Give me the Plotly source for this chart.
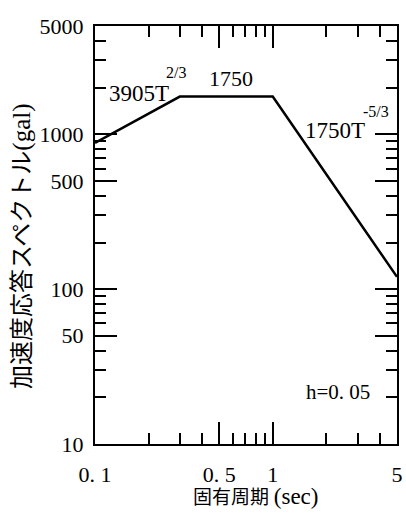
import plotly.graph_objects as go
import math

# data (straight segments on log-log axes)
period = [0.1, 0.3, 1.0, 5.0]
accel = [880, 1750, 1750, 120]

x_major_vals = [0.1, 0.5, 1, 5]
x_major_text = ["0. 1", "0. 5", "1", "5"]
x_minor_vals = [0.2, 0.3, 0.4, 0.6, 0.7, 0.8, 0.9, 2, 3, 4]
y_major_vals = [10, 50, 100, 500, 1000, 5000]
y_major_text = ["10", "50", "100", "500", "1000", "5000"]
y_minor_vals = [20, 30, 40, 60, 70, 80, 90, 200, 300, 400, 600, 700, 800, 900,
                2000, 3000, 4000]

SERIF = "Liberation Serif, Noto Sans CJK JP"

fig = go.Figure()
fig.add_trace(go.Scatter(x=period, y=accel, mode="lines",
                         line=dict(color="black", width=2.5),
                         showlegend=False, hoverinfo="skip"))

# target plot-area box in page pixels
PL, PR, PT, PB = 95, 397, 26, 444
W, H = 406, 516
L, T, R, B = PL, PT, W - PR, H - PB
pw, ph = PR - PL, PB - PT


def px(x):
    return (x - PL) / pw


def py(y):
    return (PB - y) / ph


axis_common = dict(showgrid=False, zeroline=False, showline=True, linecolor="black",
                   linewidth=2, mirror="ticks", ticks="inside", ticklen=22,
                   tickwidth=2, tickcolor="black",
                   tickfont=dict(family=SERIF, size=22, color="black"))

fig.update_xaxes(type="log", range=[math.log10(0.1), math.log10(5)],
                 tickmode="array", tickvals=x_major_vals, ticktext=x_major_text,
                 minor=dict(tickmode="array", tickvals=x_minor_vals, ticks="inside",
                            ticklen=11, tickwidth=2, tickcolor="black", showgrid=False),
                 ticklabelstandoff=10, automargin=False,
                 **axis_common)
fig.update_yaxes(type="log", range=[1, math.log10(5000)],
                 tickmode="array", tickvals=y_major_vals, ticktext=y_major_text,
                 minor=dict(tickmode="array", tickvals=y_minor_vals, ticks="inside",
                            ticklen=11, tickwidth=2, tickcolor="black", showgrid=False),
                 ticklabelstandoff=5, automargin=False,
                 **axis_common)

ann = []


def txt(text, x, y, size, xanchor="center"):
    ann.append(dict(text=text, x=px(x), y=py(y), xref="paper", yref="paper",
                    showarrow=False, xanchor=xanchor, yanchor="middle",
                    font=dict(family=SERIF, size=size, color="black")))


txt("3905T", 139, 93, 23)
txt("2/3", 176, 72, 16)
txt("1750", 231, 78, 22)
txt("1750T", 335, 130, 23)
txt("-5/3", 376, 112, 16)
txt("h=0. 05", 338, 392, 21)
txt("固有周期 <span style='font-size:23px'>(sec)</span>", 255, 496, 19)

ann.append(dict(text="加速度応答スペクトル<span style='font-size:25px'>(gal)</span>",
                x=px(22), y=py(246),
                xref="paper", yref="paper", showarrow=False, textangle=-90,
                xanchor="center", yanchor="middle",
                font=dict(family=SERIF, size=24, color="black")))

fig.update_layout(width=W, height=H, margin=dict(l=L, r=R, t=T, b=B, pad=0),
                  paper_bgcolor="white", plot_bgcolor="white",
                  annotations=ann, showlegend=False)

fig.write_html("out.html", config={"displayModeBar": False},
               post_script="document.body.style.margin='0';"
                           "document.body.style.overflow='hidden';")
